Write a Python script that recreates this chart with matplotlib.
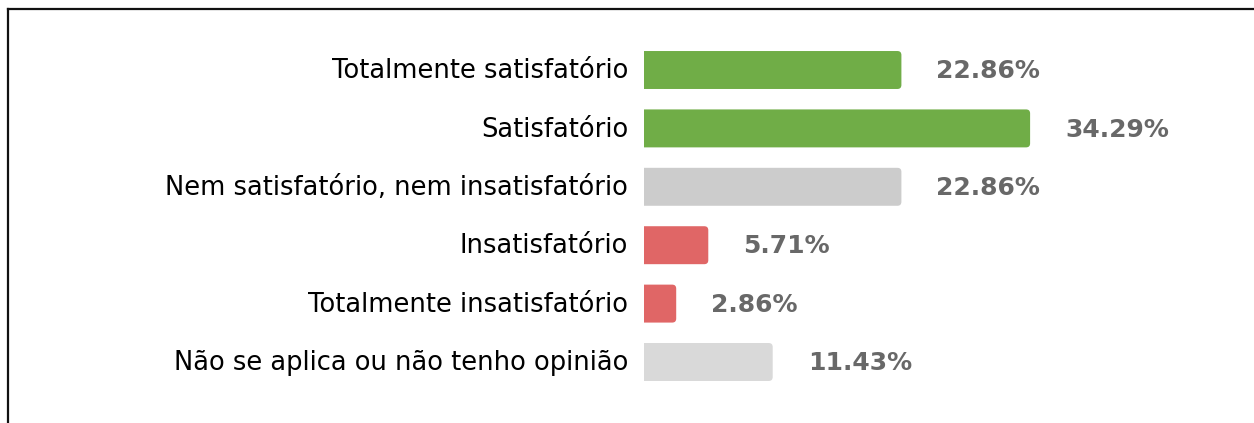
import matplotlib
matplotlib.use("Agg")
import matplotlib.pyplot as plt
from matplotlib.patches import FancyBboxPatch
from matplotlib.lines import Line2D

categories = ["Totalmente satisfatório", "Satisfatório",
              "Nem satisfatório, nem insatisfatório", "Insatisfatório",
              "Totalmente insatisfatório", "Não se aplica ou não tenho opinião"]
values = [22.86, 34.29, 22.86, 5.71, 2.86, 11.43]
value_labels = ["22.86%", "34.29%", "22.86%", "5.71%", "2.86%", "11.43%"]
colors = ["#70AD47", "#70AD47", "#CCCCCC", "#E06666", "#E06666", "#D9D9D9"]

W, H = 1254, 423
fig = plt.figure(figsize=(W / 100, H / 100), dpi=100)
fig.patch.set_facecolor("white")

x0 = 644
top_px, bot_px = 40.8, 391.2
ax = fig.add_axes([x0 / W, 1 - bot_px / H, (W - x0) / W, (bot_px - top_px) / H])
px_per_unit = 11.26
xmax = (W - x0) / px_per_unit
ax.set_xlim(0, xmax)
ax.set_ylim(len(categories) - 0.5, -0.5)
ax.axis("off")

bar_h = 0.65
row_px = (bot_px - top_px) / len(categories)
r_px = 4.0
r_x = r_px / px_per_unit
aspect = (r_px / row_px) / r_x

for i, (v, c) in enumerate(zip(values, colors)):
    # start left of the axes so the left corners are clipped square
    p = FancyBboxPatch((-2 * r_x, i - bar_h / 2), v + 2 * r_x, bar_h,
                       boxstyle=f"round,pad=0,rounding_size={r_x}",
                       mutation_aspect=aspect, facecolor=c, edgecolor="none")
    ax.add_patch(p)

for i, (v, lab) in enumerate(zip(values, value_labels)):
    ax.text(v + 35 / px_per_unit, i + 0.02, lab, va="center", ha="left",
            fontsize=18, fontweight="bold", color="#686868", family="DejaVu Sans")

for i, cat in enumerate(categories):
    ax.text(-16 / px_per_unit, i + 0.02, cat, va="center", ha="right",
            fontsize=18.5, color="#000000", family="DejaVu Sans")

fig.add_artist(Line2D([7.5 / W, 1], [1 - 9.5 / H, 1 - 9.5 / H], color="#111111", lw=1.6))
fig.add_artist(Line2D([7.5 / W, 7.5 / W], [0, 1 - 9.5 / H], color="#111111", lw=1.6))

fig.savefig("out.png", dpi=100, facecolor="white")
